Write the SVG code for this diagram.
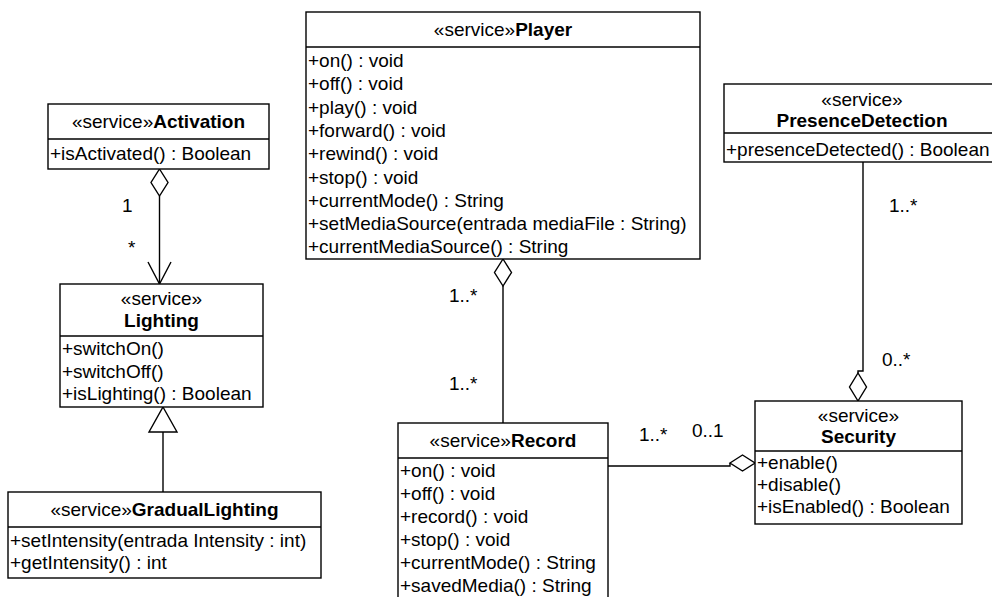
<svg xmlns="http://www.w3.org/2000/svg" width="992" height="597" viewBox="0 0 992 597">
  <style>
    text { font-family: "Liberation Sans", Arial, sans-serif; font-size: 19px; fill: #000; }
    .b { font-weight: bold; }
    .c { text-anchor: middle; }
    .box { fill: #fff; stroke: #000; stroke-width: 1.4; }
    .div { stroke: #000; stroke-width: 1.4; }
    .ln { fill: none; stroke: #000; stroke-width: 1.4; }
    .dia { fill: #fff; stroke: #000; stroke-width: 1.4; }
  </style>

  <g id="connectors">
    <!-- Activation aggregates Lighting -->
    <line class="ln" x1="159.5" y1="196" x2="159.5" y2="284"/>
    <polygon class="dia" points="159.5,169 168,182.5 159.5,196 151,182.5"/>
    <polyline class="ln" points="148,262 159.5,284 171,262"/>
    <text x="122" y="212">1</text>
    <text x="128" y="254">*</text>

    <!-- GradualLighting specializes Lighting -->
    <line class="ln" x1="163" y1="432" x2="163" y2="492"/>
    <polygon class="dia" points="163,407 177,432 149,432"/>

    <!-- Player aggregates Record -->
    <line class="ln" x1="503" y1="286" x2="503" y2="423"/>
    <polygon class="dia" points="503,259 511.5,272.5 503,286 494.5,272.5"/>
    <text x="449" y="302">1..*</text>
    <text x="449" y="390">1..*</text>

    <!-- Security aggregates Record -->
    <path class="ln" d="M608,466 H730 V463"/>
    <polygon class="dia" points="730,463 742.5,455 755,463 742.5,471"/>
    <text x="639" y="441">1..*</text>
    <text x="692" y="437">0..1</text>

    <!-- Security aggregates PresenceDetection -->
    <path class="ln" d="M863,162 V371 H858 V373"/>
    <polygon class="dia" points="858,373 866.5,387 858,401 849.5,387"/>
    <text x="889" y="212">1..*</text>
    <text x="882" y="366">0..*</text>
  </g>

  <g id="activation">
    <rect class="box" x="48" y="104" width="221" height="65"/>
    <line class="div" x1="48" y1="139" x2="269" y2="139"/>
    <text class="c" x="158.5" y="128">«service»<tspan class="b">Activation</tspan></text>
    <text x="50" y="160">+isActivated() : Boolean</text>
  </g>

  <g id="lighting">
    <rect class="box" x="60" y="284" width="203" height="123"/>
    <line class="div" x1="60" y1="336" x2="263" y2="336"/>
    <text class="c" x="161.5" y="305">«service»</text>
    <text class="c b" x="161.5" y="327">Lighting</text>
    <text x="62" y="355">+switchOn()</text>
    <text x="62" y="378">+switchOff()</text>
    <text x="62" y="400">+isLighting() : Boolean</text>
  </g>

  <g id="gradual-lighting">
    <rect class="box" x="8" y="492" width="313" height="86"/>
    <line class="div" x1="8" y1="527" x2="321" y2="527"/>
    <text class="c" x="164.5" y="516">«service»<tspan class="b">GradualLighting</tspan></text>
    <text x="10" y="547">+setIntensity(entrada Intensity : int)</text>
    <text x="10" y="569">+getIntensity() : int</text>
  </g>

  <g id="player">
    <rect class="box" x="306" y="12" width="394" height="247"/>
    <line class="div" x1="306" y1="47" x2="700" y2="47"/>
    <text class="c" x="503" y="36">«service»<tspan class="b">Player</tspan></text>
    <text x="308" y="67">+on() : void</text>
    <text x="308" y="90.3">+off() : void</text>
    <text x="308" y="113.6">+play() : void</text>
    <text x="308" y="136.9">+forward() : void</text>
    <text x="308" y="160.2">+rewind() : void</text>
    <text x="308" y="183.5">+stop() : void</text>
    <text x="308" y="206.8">+currentMode() : String</text>
    <text x="308" y="230.1">+setMediaSource(entrada mediaFile : String)</text>
    <text x="308" y="253.4">+currentMediaSource() : String</text>
  </g>

  <g id="presence-detection">
    <rect class="box" x="724" y="84" width="276" height="78"/>
    <line class="div" x1="724" y1="133" x2="1000" y2="133"/>
    <text class="c" x="862" y="106">«service»</text>
    <text class="c b" x="862" y="127">PresenceDetection</text>
    <text x="726" y="156">+presenceDetected() : Boolean</text>
  </g>

  <g id="record">
    <rect class="box" x="398" y="423" width="210" height="182"/>
    <line class="div" x1="398" y1="458" x2="608" y2="458"/>
    <text class="c" x="503" y="447">«service»<tspan class="b">Record</tspan></text>
    <text x="400" y="477">+on() : void</text>
    <text x="400" y="500">+off() : void</text>
    <text x="400" y="523">+record() : void</text>
    <text x="400" y="546">+stop() : void</text>
    <text x="400" y="569">+currentMode() : String</text>
    <text x="400" y="592">+savedMedia() : String</text>
  </g>

  <g id="security">
    <rect class="box" x="755" y="401" width="207" height="123"/>
    <line class="div" x1="755" y1="451" x2="962" y2="451"/>
    <text class="c" x="858.5" y="422">«service»</text>
    <text class="c b" x="858.5" y="443">Security</text>
    <text x="757" y="469">+enable()</text>
    <text x="757" y="491">+disable()</text>
    <text x="757" y="513">+isEnabled() : Boolean</text>
  </g>
</svg>
